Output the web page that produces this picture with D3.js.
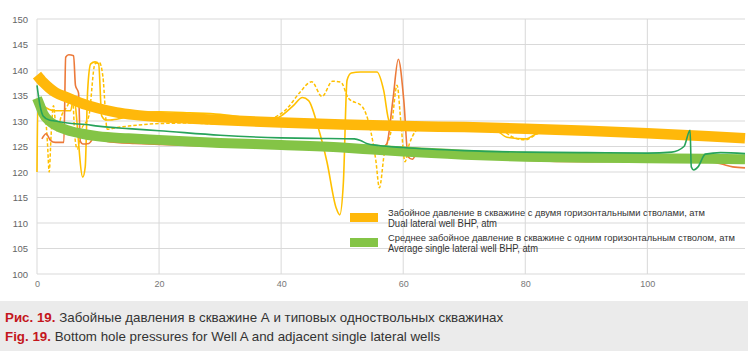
<!DOCTYPE html>
<html><head><meta charset="utf-8">
<script src="https://cdn.jsdelivr.net/npm/d3@7"></script>
<style>
html,body{margin:0;padding:0;background:#fff;}
svg{display:block;font-family:"Liberation Sans",Arial,sans-serif;}
</style></head>
<body>
<svg id="chart" width="750" height="354"></svg>
<script>
// ---------- data ----------
const xTicks = [0, 20, 40, 60, 80, 100];
const yTicks = [100, 105, 110, 115, 120, 125, 130, 135, 140, 145, 150];

// thick: dual lateral well BHP
const dualX = [0,1,2,3,5,7,10,13,16,20,25,30,40,50,60,70,80,90,100,110,116];
const dualY = [139,137.6,136.5,135.6,134.6,133.6,132.5,131.7,131.2,130.8,130.5,130.2,129.7,129.3,129.0,128.8,128.5,128.1,127.6,127.0,126.6];

// thick: average single lateral well BHP
const avgX = [0,0.5,1,2,3,5,7,10,15,20,30,40,50,55,60,70,80,90,100,110,116];
const avgY = [134.5,133,131.5,130,129.2,128.2,127.6,127.0,126.6,126.3,125.7,125.3,124.8,124.4,124.0,123.4,123.0,122.8,122.7,122.6,122.5];

// thin dark green: single lateral well
const sgX = [0,0.5,1,2,3,5,8,10,15,20,30,40,45,52,53,54,56,60,70,80,90,100,104,106,107,107.2,107.6,108.3,109.5,112,116];
const sgY = [137,133,131,130.2,130,129.6,129.3,129,128.5,128.1,127.2,126.7,126.6,126.5,126.2,125.6,125.2,124.8,124.2,123.9,123.8,123.7,123.9,125,128.2,121,120.4,121,123.5,123.8,123.6];

// thin orange-red: single lateral well
const srX = [0.8,1.5,2.2,3,4.4,4.7,5.2,6.0,6.3,6.8,7.1,7.5,8.5,9.5,10.5,11.5,13,16,20,30,40,50,56,57.3,58.3,59.2,60.1,60.8,61.5,62.5,70,80,90,100,110,112,114,116];
const srY = [126.5,127.5,126.2,125.8,125.8,142.5,143,142.8,137,135.5,126,125.5,125.6,127,127,126,125.8,125.6,125.4,125,124.8,124.6,124.5,125.5,134,142.1,134,123,122.5,124.2,123.6,122.3,122.0,122.1,122.0,121.6,121,120.8];

// thin yellow solid: dual lateral, lateral 1
const ysX = [0,0.15,1,3,5.5,6.0,7.5,7.9,8.3,8.8,9.5,10.1,10.6,11.3,12,14,17,20,25,30,35,38,40,42,43.5,44.5,46,47.5,49,49.6,50.2,50.8,51.5,53,55.7,56.8,57.7,58.5,60,65,70,75,77,80,82,85,90,100,110,116];
const ysY = [120,134,133,132,132,134.5,119,121,136,141.2,141.6,141.2,131,130.2,130.2,130.6,131.6,131.8,131.6,131.3,130.5,130,131,133,134.6,134,129,122,113,111.6,118,138,139.4,139.6,139.6,136,130,129.5,129.3,129,128.7,128.3,126.8,126.5,127.6,128.2,128,127.6,127,126.6];

// thin yellow dashed: dual lateral, lateral 2
const ydX = [1.4,1.7,2.0,2.3,2.7,3.2,4,5,5.8,6.2,6.6,7.2,8.5,9.5,10.2,10.8,11.5,12.5,15,20,25,30,35,38,41,43,45,46.7,48.4,49.8,51,53.3,55.5,56.1,56.9,58,59,59.6,60.3,61,63,70,76,78,80,82,85,90,100,110,116];
const ydY = [131,126,120,127,133,128,131,133,135,127,124.5,128,131,141.2,141.5,138.7,128.4,128.6,129,129.5,129.6,129.4,129.5,130.2,132.5,135.5,137.7,134.8,137.8,137.6,134.5,132.8,122.4,116.9,123.6,128,137,130,122,125.5,128.8,128.7,128.2,126.8,126.3,127.5,128.2,128,127.5,127,126.6];

const legendRu = ["Забойное давление в скважине с двумя горизонтальными стволами, атм",
                  "Среднее забойное давление в скважине с одним горизонтальным стволом, атм"];
const legendEn = ["Dual lateral well BHP, atm", "Average single lateral well BHP, atm"];
const captionRu = ["Рис. 19.", " Забойные давления в скважине А и типовых одноствольных скважинах"];
const captionEn = ["Fig. 19.", " Bottom hole pressures for Well A and adjacent single lateral wells"];

// ---------- drawing ----------
const svg = d3.select("#chart");
const x = d3.scaleLinear().domain([0, 116]).range([37, 745]);
const y = d3.scaleLinear().domain([100, 150]).range([274, 19]);

const grid = svg.append("g");
grid.selectAll("line.h").data(yTicks).join("line")
  .attr("x1", x(0)).attr("x2", x(116)).attr("y1", d => y(d)).attr("y2", d => y(d))
  .attr("stroke", "#d9d9d9").attr("stroke-width", 1);
grid.selectAll("line.v").data(xTicks).join("line")
  .attr("x1", d => x(d)).attr("x2", d => x(d)).attr("y1", y(100)).attr("y2", y(150))
  .attr("stroke", "#d9d9d9").attr("stroke-width", 1);

// axes (labels only)
const yAxis = svg.append("g").attr("transform", `translate(${x(0) - 9},0)`)
  .call(d3.axisLeft(y).tickValues(yTicks).tickSize(0).tickPadding(0));
yAxis.select(".domain").remove();
yAxis.selectAll("text").attr("fill", "#666").attr("font-size", 9.5).attr("font-family", "Liberation Sans, Arial, sans-serif");

const xAxis = svg.append("g").attr("transform", `translate(0,${y(100) + 7})`)
  .call(d3.axisBottom(x).tickValues(xTicks).tickSize(0).tickPadding(0));
xAxis.select(".domain").remove();
xAxis.selectAll("text").attr("fill", "#777").attr("font-size", 9).attr("font-family", "Liberation Sans, Arial, sans-serif");

function series(xs, ys) { return xs.map((v, i) => [v, ys[i]]); }
const line = d3.line().x(d => x(d[0])).y(d => y(d[1])).curve(d3.curveMonotoneX);

const plot = svg.append("g");
plot.append("path").datum(series(ydX, ydY)).attr("d", line)
  .attr("fill", "none").attr("stroke", "#ffc000").attr("stroke-width", 1.5).attr("stroke-dasharray", "3.5,2");
plot.append("path").datum(series(ysX, ysY)).attr("d", line)
  .attr("fill", "none").attr("stroke", "#ffc000").attr("stroke-width", 1.6);
plot.append("path").datum(series(srX, srY)).attr("d", line)
  .attr("fill", "none").attr("stroke", "#ec7a3a").attr("stroke-width", 1.6);
plot.append("path").datum(series(dualX, dualY)).attr("d", line)
  .attr("fill", "none").attr("stroke", "#ffb80a").attr("stroke-width", 10.5).attr("stroke-linecap", "butt");
plot.append("path").datum(series(avgX, avgY)).attr("d", line)
  .attr("fill", "none").attr("stroke", "#84c446").attr("stroke-width", 10).attr("stroke-linecap", "butt");
plot.append("path").datum(series(sgX, sgY)).attr("d", line)
  .attr("fill", "none").attr("stroke", "#27a35a").attr("stroke-width", 1.6);

// legend
const legColors = ["#ffb80a", "#84c446"];
const enLen = [109, 150];
const leg = svg.append("g");
[0, 1].forEach(i => {
  const top = 213 + i * 25;
  leg.append("rect").attr("x", 350).attr("y", top).attr("width", 28).attr("height", 9).attr("fill", legColors[i]);
  leg.append("text").attr("x", 388).attr("y", top + 2.8).attr("font-size", 9.35).attr("fill", "#333")
    .text(legendRu[i]);
  leg.append("text").attr("x", 388).attr("y", top + 13.8).attr("font-size", 10.3).attr("fill", "#333")
    .attr("textLength", enLen[i]).attr("lengthAdjust", "spacingAndGlyphs").text(legendEn[i]);
});

// caption
svg.append("rect").attr("x", 0).attr("y", 301).attr("width", 748).attr("height", 50).attr("fill", "#ebebeb");
[captionRu, captionEn].forEach((c, i) => {
  const t = svg.append("text").attr("x", 5).attr("y", 322 + i * 19).attr("font-size", 13.35).attr("fill", "#333");
  t.append("tspan").attr("fill", "#c4161c").attr("font-weight", "bold").text(c[0]);
  t.append("tspan").text(c[1]);
});
</script>
</body></html>
